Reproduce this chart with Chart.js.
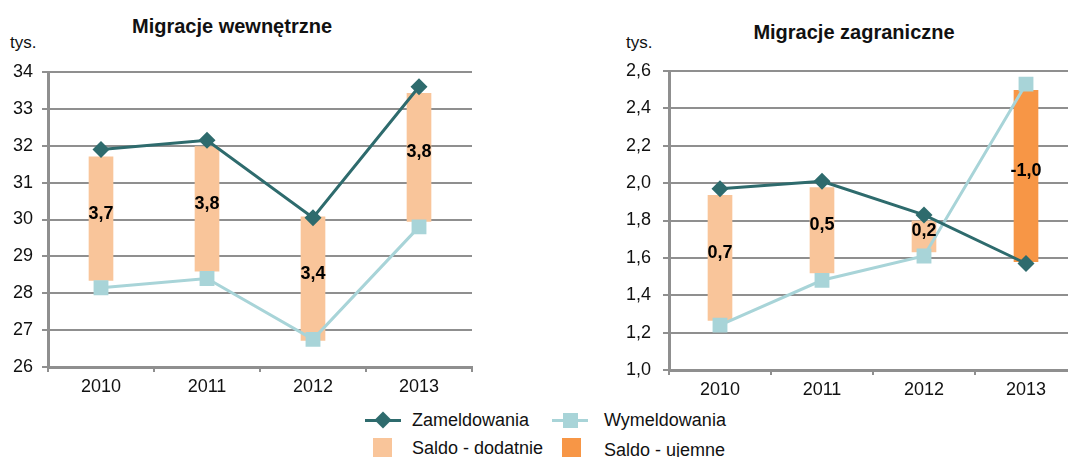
<!DOCTYPE html>
<html>
<head>
<meta charset="utf-8">
<script src="https://cdn.jsdelivr.net/npm/chart.js@4/dist/chart.umd.min.js"></script>
<style>
  body { margin: 0; width: 1068px; height: 457px; overflow: hidden; position: relative; background: #fff;
         font-family: "Liberation Sans", Arial, sans-serif; color: #111; }
  canvas { position: absolute; top: 0; }
  .txt { position: absolute; white-space: nowrap; line-height: 20px; }
  .title { font-weight: bold; font-size: 20px; }
  .unit { font-size: 17px; }
  .lg { font-size: 18px; }
</style>
</head>
<body>
<div class="txt title" id="t1" style="left:0;width:464px;text-align:center;top:16px">Migracje wewnętrzne</div>
<div class="txt title" id="t2" style="left:640px;width:428px;text-align:center;top:22px">Migracje zagraniczne</div>
<div class="txt unit" style="left:10px;top:33px">tys.</div>
<div class="txt unit" style="left:626px;top:33px">tys.</div>

<canvas id="wewn" width="500" height="400" style="left:0"></canvas>
<canvas id="zagr" width="500" height="402" style="left:600px"></canvas>

<!-- legenda -->
<div style="position:absolute;left:365px;top:419px;width:36px;height:3px;background:#2e6b6d"></div>
<div style="position:absolute;left:377px;top:414px;width:12px;height:12px;background:#2e6b6d;transform:rotate(45deg)"></div>
<div class="txt lg" style="left:412px;top:410px">Zameldowania</div>
<div style="position:absolute;left:552px;top:419px;width:36px;height:3px;background:#a8d4d8"></div>
<div style="position:absolute;left:563px;top:413px;width:15px;height:15px;background:#a8d4d8"></div>
<div class="txt lg" style="left:604px;top:410px">Wymeldowania</div>
<div style="position:absolute;left:373px;top:438px;width:19px;height:19px;background:#f9c59a"></div>
<div class="txt lg" style="left:412px;top:438px">Saldo - dodatnie</div>
<div style="position:absolute;left:562px;top:438px;width:19px;height:19px;background:#f79646"></div>
<div class="txt lg" style="left:604px;top:440px">Saldo - ujemne</div>

<script>
const years = ["2010", "2011", "2012", "2013"];

// migracje wewnętrzne (tys.)
const wewnZamel = [31.9, 32.15, 30.05, 33.6];
const wewnWymel = [28.15, 28.4, 26.75, 29.8];
const wewnSaldoBars = [[28.35, 31.7], [28.6, 31.98], [26.72, 30.07], [29.95, 33.42]];
const wewnSaldo = ["3,7", "3,8", "3,4", "3,8"];
const wewnYTicks = [26, 27, 28, 29, 30, 31, 32, 33, 34];

// migracje zagraniczne (tys.)
const zagrZamel = [1.97, 2.01, 1.83, 1.57];
const zagrWymel = [1.24, 1.48, 1.61, 2.53];
const zagrSaldoBars = [[1.265, 1.935], [1.52, 1.976], [1.632, 1.798], [1.58, 2.497]];
const zagrSaldo = ["0,7", "0,5", "0,2", "-1,0"];
const zagrYTicks = [1.0, 1.2, 1.4, 1.6, 1.8, 2.0, 2.2, 2.4, 2.6];

const colZamel = "#2e6b6d";
const colWymel = "#a8d4d8";
const colPlus = "#f9c59a";
const colMinus = "#f79646";
const gridCol = "#8f8f8f";

Chart.defaults.font.family = '"Liberation Sans", Arial, sans-serif';
Chart.defaults.font.size = 18;
Chart.defaults.color = "#111";

const barLabels = {
  id: "barLabels",
  afterDatasetsDraw(chart, args, opts) {
    const ctx = chart.ctx;
    const meta = chart.getDatasetMeta(0);
    ctx.save();
    ctx.font = 'bold 18px "Liberation Sans", Arial, sans-serif';
    ctx.fillStyle = "#000";
    ctx.textAlign = "center";
    ctx.textBaseline = "middle";
    meta.data.forEach((el, i) => {
      ctx.fillText(opts.labels[i], el.x, (el.y + el.base) / 2 - 5);
    });
    ctx.restore();
  }
};

function makeChart(id, zamel, wymel, bars, labels, yTicks, cfg) {
  return new Chart(document.getElementById(id), {
    type: "bar",
    data: {
      labels: years,
      datasets: [
        {
          type: "bar",
          data: bars,
          backgroundColor: labels.map(l => (l.startsWith("-") ? colMinus : colPlus)),
          barThickness: 24,
          order: 3
        },
        {
          type: "line",
          data: wymel,
          borderColor: colWymel,
          backgroundColor: colWymel,
          borderWidth: 3,
          pointStyle: "rect",
          pointRadius: 10.5,
          pointBorderWidth: 0,
          tension: 0,
          order: 2
        },
        {
          type: "line",
          data: zamel,
          borderColor: colZamel,
          backgroundColor: colZamel,
          borderWidth: 3,
          pointStyle: "rectRot",
          pointRadius: 8.5,
          pointBorderWidth: 0,
          tension: 0,
          order: 1
        }
      ]
    },
    options: {
      responsive: false,
      animation: false,
      devicePixelRatio: 1,
      layout: { padding: cfg.padding },
      plugins: {
        legend: { display: false },
        tooltip: { enabled: false },
        barLabels: { labels: labels }
      },
      scales: {
        x: {
          offset: true,
          grid: { offset: true, drawOnChartArea: false, tickLength: 5, color: gridCol, lineWidth: 2 },
          border: { color: gridCol, width: 3 },
          ticks: { padding: 4, color: "#111" },
          afterFit: s => { s.height = 30; }
        },
        y: {
          min: yTicks[0],
          max: yTicks[yTicks.length - 1],
          afterBuildTicks: s => { s.ticks = yTicks.map(v => ({ value: v })); },
          grid: { color: gridCol, lineWidth: 2, tickLength: 6 },
          border: { color: gridCol, width: 3 },
          ticks: {
            padding: cfg.tickPad,
            color: "#111",
            callback: v => cfg.fmt(v)
          },
          afterFit: s => { s.width = cfg.yWidth; }
        }
      }
    },
    plugins: [barLabels]
  });
}

makeChart("wewn", wewnZamel, wewnWymel, wewnSaldoBars, wewnSaldo, wewnYTicks, {
  padding: { top: 72, right: 28, bottom: 3, left: 0 },
  yWidth: 48,
  tickPad: 9,
  fmt: v => String(v)
});

makeChart("zagr", zagrZamel, zagrWymel, zagrSaldoBars, zagrSaldo, zagrYTicks, {
  padding: { top: 71, right: 23, bottom: 2, left: 0 },
  yWidth: 69,
  tickPad: 12,
  fmt: v => v.toFixed(1).replace(".", ",")
});
</script>
</body>
</html>
